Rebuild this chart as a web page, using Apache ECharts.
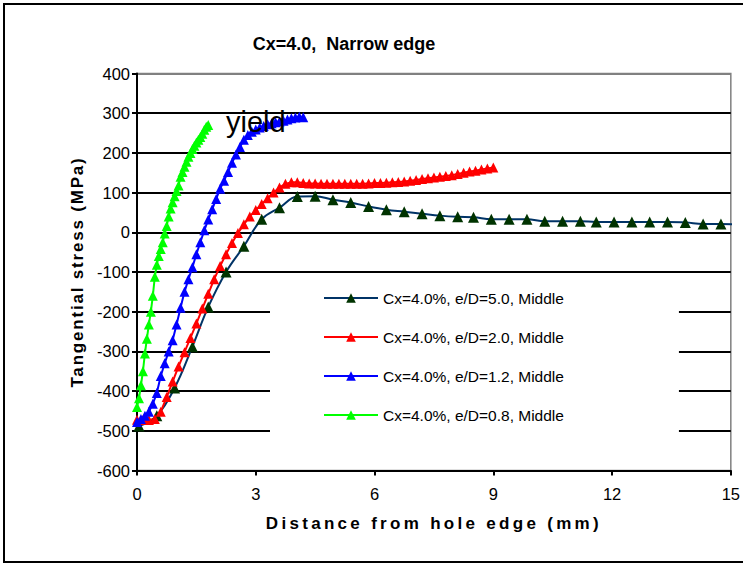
<!DOCTYPE html>
<html>
<head>
<meta charset="utf-8">
<script src="https://cdn.jsdelivr.net/npm/echarts@6/dist/echarts.min.js"></script>
<style>
  html, body { margin: 0; padding: 0; background: #fff; overflow: hidden; }
  #chart { width: 743px; height: 566px; }
  /* the two axis titles are set with wide character spacing */
  #chart text[style*="17.01px"] { letter-spacing: 3.3px; }
  #chart text[style*="17.02px"] { letter-spacing: 1.8px; }
</style>
</head>
<body>
<div id="chart"></div>
<script>
// Tangential stress along the distance from the hole edge, four edge distances
var titleText = 'Cx=4.0,  Narrow edge';
var xTitle = 'Distance from hole edge (mm)';
var yTitle = 'Tangential stress (MPa)';
var xTicks = [0, 3, 6, 9, 12, 15];
var yTicks = [-600, -500, -400, -300, -200, -100, 0, 100, 200, 300, 400];

var seriesNames = [
  'Cx=4.0%, e/D=5.0, Middle',
  'Cx=4.0%, e/D=2.0, Middle',
  'Cx=4.0%, e/D=1.2, Middle',
  'Cx=4.0%, e/D=0.8, Middle'
];

// e/D = 5.0
var ed50X = [0.05, 0.5, 0.95, 1.4, 1.8, 2.25, 2.7, 3.15, 3.6, 4.05, 4.5, 4.95, 5.4, 5.85,
  6.3, 6.75, 7.2, 7.65, 8.1, 8.5, 8.95, 9.4, 9.85, 10.3, 10.75, 11.2, 11.6, 12.05, 12.5,
  12.95, 13.4, 13.85, 14.3, 14.75, 15.4];
var ed50Y = [-488, -462, -392, -288, -188, -100, -35, 33, 62, 90, 91, 82, 75, 65,
  57, 52, 47, 42, 39, 38, 33, 33, 33, 28, 28, 28, 26, 26, 26,
  26, 26, 25, 21, 21, 17];

// e/D = 2.0
var ed20X = [0, 0.15, 0.3, 0.45, 0.6, 0.75, 0.9, 1.05, 1.2, 1.35, 1.5, 1.65, 1.8, 1.95,
  2.1, 2.25, 2.4, 2.55, 2.7, 2.85, 3.0, 3.15, 3.3, 3.45, 3.6, 3.75, 3.9, 4.05, 4.2, 4.35,
  4.5, 4.65, 4.8, 4.95, 5.1, 5.25, 5.4, 5.55, 5.7, 5.85, 6.0, 6.15, 6.3, 6.45, 6.6, 6.75,
  6.9, 7.05, 7.2, 7.35, 7.5, 7.65, 7.8, 7.95, 8.1, 8.25, 8.4, 8.55, 8.7, 8.85, 9.0];
var ed20Y = [-472, -473, -473, -470, -452, -415, -376, -338, -302, -266, -230, -192, -155, -118,
  -85, -55, -27, -2, 20, 40, 56, 71, 86, 100, 113, 122, 126, 126, 124, 123,
  123, 122, 122, 122, 122, 122, 122, 122, 122, 123, 124, 124, 125, 126, 127, 128,
  130, 132, 134, 136, 138, 140, 142, 144, 147, 150, 153, 155, 158, 161, 163];

// e/D = 1.2
var ed12X = [0, 0.1, 0.2, 0.3, 0.4, 0.5, 0.6, 0.7, 0.8, 0.9, 1.0, 1.1, 1.2, 1.3, 1.4, 1.5,
  1.6, 1.7, 1.8, 1.9, 2.0, 2.1, 2.2, 2.3, 2.4, 2.5, 2.6, 2.7, 2.8, 2.9, 3.0, 3.1, 3.2,
  3.3, 3.4, 3.5, 3.6, 3.7, 3.8, 3.9, 4.0, 4.1, 4.2];
var ed12Y = [-478, -470, -462, -452, -432, -405, -362, -330, -300, -272, -232, -190, -150, -118, -88, -55,
  -25, 5, 32, 58, 84, 110, 130, 152, 175, 196, 215, 233, 245, 253, 259, 264, 268,
  272, 275, 277, 279, 281, 284, 287, 289, 291, 290];

// e/D = 0.8
var ed08X = [0, 0.05, 0.1, 0.15, 0.2, 0.25, 0.3, 0.35, 0.4, 0.45, 0.5, 0.55, 0.6, 0.65,
  0.7, 0.75, 0.8, 0.85, 0.9, 0.95, 1.0, 1.05, 1.1, 1.15, 1.2, 1.25, 1.3, 1.35, 1.4, 1.45,
  1.5, 1.55, 1.6, 1.65, 1.7, 1.75, 1.8];
var ed08Y = [-440, -418, -385, -350, -305, -268, -232, -200, -160, -112, -82, -60, -42, -25,
  -3, 16, 40, 60, 76, 91, 104, 118, 140, 152, 165, 178, 190, 200, 210, 218,
  226, 233, 240, 248, 258, 266, 270];

var yieldLabel = 'yield';
var yieldAt = [3.0, 279];

var FONT = 'Liberation Sans';
var xMax = xTicks[xTicks.length - 1];

function pairs(xs, ys) {
  return xs.map(function (x, i) {
    var item = { value: [x, ys[i]] };
    if (x > xMax) item.symbol = 'none';
    return item;
  });
}

function lineSeries(name, xs, ys, lineColor, markColor, size, extra) {
  var s = {
    name: name,
    type: 'line',
    data: pairs(xs, ys),
    symbol: 'triangle',
    symbolSize: size,
    showAllSymbol: true,
    clip: false,
    lineStyle: { color: lineColor, width: 2 },
    itemStyle: { color: markColor },
    emphasis: { disabled: true },
    animation: false
  };
  for (var k in extra) s[k] = extra[k];
  return s;
}

// top split line is drawn grey like the plot frame
var splitColors = yTicks.map(function (v, i) {
  return i === yTicks.length - 1 ? '#808080' : '#000000';
});

var chart = echarts.init(document.getElementById('chart'), null, { renderer: 'svg' });
chart.setOption({
  backgroundColor: '#ffffff',
  animation: false,
  title: {
    text: titleText,
    left: 339,
    top: 30,
    textAlign: 'center',
    textStyle: { fontFamily: FONT, fontSize: 18, fontWeight: 'bold', color: '#000' }
  },
  grid: {
    left: 137, right: 12, top: 73.5, bottom: 95.5,
    show: true, borderColor: '#808080', borderWidth: 1.5, backgroundColor: 'transparent'
  },
  legend: {
    orient: 'vertical',
    left: 270,
    top: 280,
    itemWidth: 54,
    itemHeight: 12,
    itemGap: 23,
    padding: [10, 115, 14, 53],
    backgroundColor: '#ffffff',
    data: seriesNames,
    textStyle: { fontFamily: FONT, fontSize: 15.5, color: '#000' }
  },
  xAxis: {
    type: 'value',
    min: xTicks[0], max: xMax, interval: 3,
    name: xTitle,
    nameLocation: 'middle',
    nameGap: 44,
    nameTextStyle: { fontFamily: FONT, fontSize: 17.01, fontWeight: 'bold', color: '#000' },
    axisLine: { onZero: false, lineStyle: { color: '#000', width: 2 } },
    axisTick: { show: true, length: 5, lineStyle: { color: '#000', width: 2 } },
    axisLabel: { fontFamily: FONT, fontSize: 16.5, color: '#000', margin: 15 },
    splitLine: { show: false }
  },
  yAxis: {
    type: 'value',
    min: yTicks[0], max: yTicks[yTicks.length - 1], interval: 100,
    name: yTitle,
    nameLocation: 'middle',
    nameGap: 43,
    nameTextStyle: { fontFamily: FONT, fontSize: 17.02, fontWeight: 'bold', color: '#000' },
    axisLine: { lineStyle: { color: '#000', width: 2 } },
    axisTick: { show: true, length: 5, lineStyle: { color: '#000', width: 2 } },
    axisLabel: { fontFamily: FONT, fontSize: 16.5, color: '#000', margin: 7 },
    splitLine: { show: true, lineStyle: { color: splitColors, width: 2 } }
  },
  series: [
    lineSeries(seriesNames[0], ed50X, ed50Y, '#003366', '#003300', 11, { smooth: 0.4 }),
    lineSeries(seriesNames[1], ed20X, ed20Y, '#ff0000', '#ff0000', 10, {}),
    lineSeries(seriesNames[2], ed12X, ed12Y, '#0000ff', '#0000ff', 10, {
      markPoint: {
        symbol: 'rect',
        symbolSize: 1,
        itemStyle: { color: 'rgba(0,0,0,0)' },
        label: {
          show: true, position: 'inside', formatter: yieldLabel,
          fontFamily: FONT, fontSize: 29, color: '#000'
        },
        data: [{ coord: yieldAt }],
        animation: false
      }
    }),
    lineSeries(seriesNames[3], ed08X, ed08Y, '#00ff00', '#00ff00', 10, {})
  ],
  graphic: [{
    type: 'rect',
    shape: { x: 4, y: 4, width: 760, height: 558 },
    style: { fill: 'none', stroke: '#000', lineWidth: 2 },
    silent: true,
    z: 100
  }]
});
</script>
</body>
</html>
